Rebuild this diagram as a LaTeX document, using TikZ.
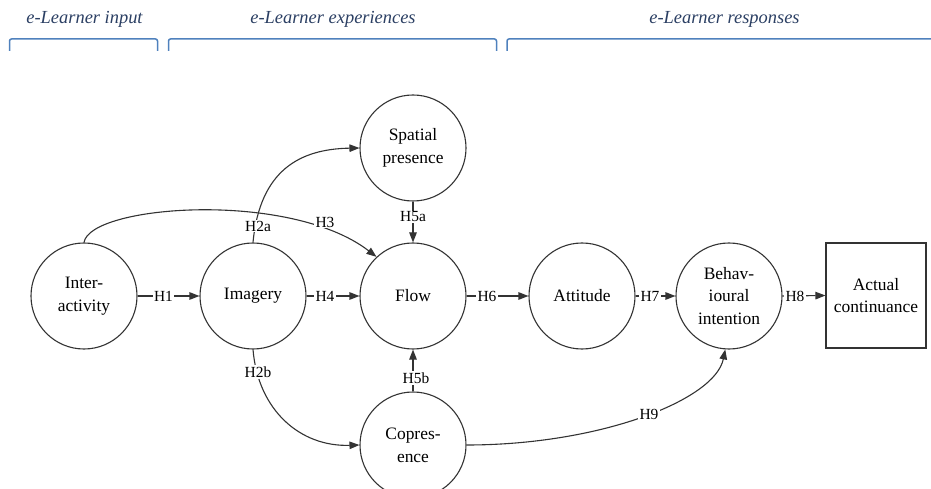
\documentclass[tikz,border=0pt]{standalone}
\usepackage{fontspec}
\setmainfont{Liberation Serif}
\usetikzlibrary{arrows.meta}
\definecolor{ln}{HTML}{333333}
\definecolor{brk}{RGB}{79,129,189}
\definecolor{ttl}{HTML}{2B3F63}
\begin{document}
\begin{tikzpicture}[x=1bp,y=-1bp,
  circ/.style={circle,draw=ln,line width=1.1bp,minimum size=106bp,inner sep=0pt,align=center,
    font=\fontsize{17.5}{23}\selectfont},
  box/.style={rectangle,draw=ln,line width=1.1bp,minimum width=100bp,minimum height=105bp,
    inner sep=0pt,align=center,font=\fontsize{17.5}{23}\selectfont},
  edge/.style={draw=ln,line width=1.1bp,-{Triangle[length=10bp,width=7.5bp]}},
  lab/.style={fill=white,inner sep=1.2bp,font=\fontsize{15.5}{18}\selectfont},
  ttlst/.style={text=ttl,anchor=base,font=\fontsize{18.5}{22}\selectfont\itshape},
  brack/.style={draw=brk,line width=1.5bp,rounded corners=2bp}]
\useasboundingbox (0,0) rectangle (931,489);

% section titles and brackets
\node[ttlst] (t1) at (84.5,24) {e-Learner input};
\node[ttlst] (t2) at (333,24) {e-Learner experiences};
\node[ttlst] (t3) at (724.5,24) {e-Learner responses};
\draw[brack] (9.5,51) -- (9.5,39) -- (157.5,39) -- (157.5,51);
\draw[brack] (168.5,51) -- (168.5,39) -- (496.5,39) -- (496.5,51);
\draw[brack] (507,51) -- (507,39) -- (933,39);

% nodes
\node[circ] (inter) at (84,296) {Inter-\\activity};
\node[circ] (img) at (253,296) {Imagery};
\node[circ] (flow) at (413,296) {Flow};
\node[circ] (att) at (582,296) {Attitude};
\node[circ] (bi) at (729,296) {Behav-\\ioural\\intention};
\node[box] (ac) at (876,295.5) {Actual\\continuance};
\node[circ] (sp) at (413,148) {Spatial\\presence};
\node[circ] (cp) at (413,445) {Copres-\\ence};

% connectors
\draw[edge] (inter.east) -- (img.west);
\draw[edge] (img.east) -- (flow.west);
\draw[edge] (flow.east) -- (att.west);
\draw[edge] (att.east) -- (bi.west);
\draw[edge] (bi.east) -- (ac.west);
\draw[edge] (sp.south) -- (flow.north);
\draw[edge] (cp.north) -- (flow.south);
\draw[edge] (inter.north) .. controls (90,205) and (290,190) .. (flow.133);
\draw[edge] (img.north) .. controls (260,170) and (300,149) .. (sp.west);
\draw[edge] (img.south) .. controls (258,410) and (300,447) .. (cp.west);
\draw[edge] (cp.east) .. controls (600,445) and (715,400) .. (bi.266);

% connector labels
\node[lab] (h1) at (163.5,296) {H1};
\node[lab] (h4) at (325,296) {H4};
\node[lab] (h6) at (487,296) {H6};
\node[lab] (h7) at (650,296) {H7};
\node[lab] (h8) at (795,296) {H8};
\node[lab] (h2a) at (258,226) {H2a};
\node[lab] (h3) at (325,222) {H3};
\node[lab] (h5a) at (413,217) {H5a};
\node[lab] (h2b) at (258,372) {H2b};
\node[lab] (h5b) at (416,378) {H5b};
\node[lab] (h9) at (649,414) {H9};
\end{tikzpicture}
\end{document}
